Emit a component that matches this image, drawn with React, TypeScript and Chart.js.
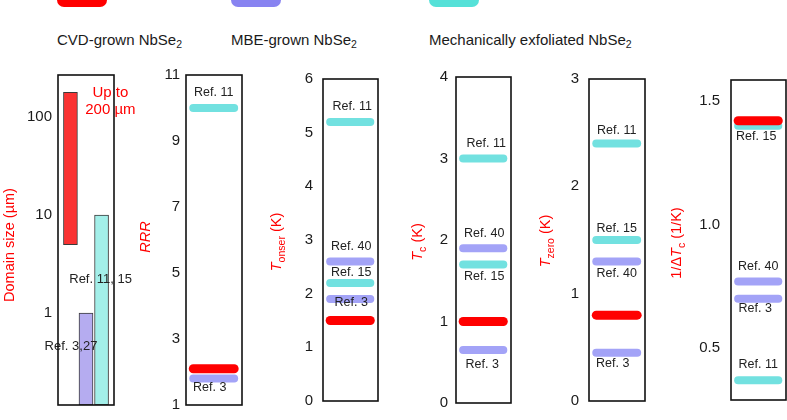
import React, { useEffect, useRef } from 'react';
import { Chart, registerables } from 'chart.js';

Chart.register(...registerables);

const FONT = '"Liberation Sans", Arial, Helvetica, sans-serif';

// ---------------- data ----------------
const groupKeys = ['cvd', 'mbe', 'exf'];
const legendLabels = ['CVD-grown NbSe2', 'MBE-grown NbSe2', 'Mechanically exfoliated NbSe2'];

// Domain size (µm), log scale; bars start at the axis bottom unless a low value is given
const domainGroups = ['cvd', 'mbe', 'exf'];
const domainLow: (number | null)[] = [5, null, null];
const domainHigh = [180, 1, 10];
const domainTicks = [1, 10, 100];
const domainNotes = [['Up to', '200 µm'], ['Ref. 3,27'], ['Ref. 11, 15']];

const rrrValues = [10.0, 2.1, 1.8];
const rrrGroups = ['exf', 'cvd', 'mbe'];
const rrrRefs = ['Ref. 11', '', 'Ref. 3'];
const rrrTicks = [1, 3, 5, 7, 9, 11];

const onsetValues = [5.2, 2.6, 2.2, 1.9, 1.5];
const onsetGroups = ['exf', 'mbe', 'exf', 'mbe', 'cvd'];
const onsetRefs = ['Ref. 11', 'Ref. 40', 'Ref. 15', 'Ref. 3', ''];
const onsetTicks = [0, 1, 2, 3, 4, 5, 6];

const tcValues = [3.0, 1.9, 1.7, 1.0, 0.65];
const tcGroups = ['exf', 'mbe', 'exf', 'cvd', 'mbe'];
const tcRefs = ['Ref. 11', 'Ref. 40', 'Ref. 15', '', 'Ref. 3'];
const tcTicks = [0, 1, 2, 3, 4];

const tzeroValues = [2.4, 1.5, 1.3, 0.8, 0.45];
const tzeroGroups = ['exf', 'exf', 'mbe', 'cvd', 'mbe'];
const tzeroRefs = ['Ref. 11', 'Ref. 15', 'Ref. 40', '', 'Ref. 3'];
const tzeroTicks = [0, 1, 2, 3];

const invDtValues = [1.42, 1.4, 0.77, 0.7, 0.37];
const invDtGroups = ['cvd', 'exf', 'mbe', 'mbe', 'exf'];
const invDtRefs = ['', 'Ref. 15', 'Ref. 40', 'Ref. 3', 'Ref. 11'];
const invDtTicks = [0.5, 1.0, 1.5];

// ---------------- styles / layout ----------------
const LINE_COLORS: Record<string, string> = { cvd: '#ff0000', mbe: '#a3a3f7', exf: '#72e1e0' };
const BAR_COLORS: Record<string, string> = { cvd: '#fa3232', mbe: '#b5acf0', exf: '#a3efe9' };
const LEGEND_COLORS: Record<string, string> = { cvd: '#ff0000', mbe: '#8883f1', exf: '#55e1d8' };
const LEGEND_X = [57, 231, 429];

const LINE_X0 = 0.13;
const LINE_X1 = 0.86;

const domainNoteOffsets: [number, number][] = [[40, 1], [-15, 33], [-1, 64]];
const domainNoteStyle = [
  { color: '#ff0000', size: 15, gap: 17 },
  { color: '#222', size: 13, gap: 0 },
  { color: '#222', size: 13, gap: 0 },
];
const rrrOffsets: ([number, number] | null)[] = [[0, -15], null, [-4, 9]];
const onsetOffsets: ([number, number] | null)[] = [[2, -15], [1, -15], [1, -10], [1, 4], null];
const tcOffsets: ([number, number] | null)[] = [[3, -15], [1, -15], [1, 12], null, [-1, 15]];
const tzeroOffsets: ([number, number] | null)[] = [[0, -13], [0, -11], [0, 12], null, [-4, 11]];
const invDtOffsets: ([number, number] | null)[] = [null, [-2, 11], [0, -15], [-3, 10], [0, -16]];

const PAGE_TOP = 60;
const CANVAS_H = 360;
const PAD_TOP = 14;
const PAD_BOTTOM = 9;
const AXIS_W = 60;
const PAD_RIGHT = 3;

type Seg = { text: string; italic?: boolean; sub?: boolean };
type LabelItem = { ds: number; lines: string[]; dx: number; dy: number; color: string; size: number; gap: number };

interface Panel {
  box: [number, number];
  extraRight: number;
  scaleType: 'linear' | 'logarithmic';
  min: number;
  max: number;
  ticks: number[];
  fmt: (v: number) => string;
  tickPad: number;
  title: Seg[];
  titleX: number;
  titleY: number;
  datasets: any[];
  xMin: number;
  xMax: number;
  labels: LabelItem[];
}

function linePanelData(values: number[], groups: string[], refs: string[], offsets: ([number, number] | null)[]) {
  const datasets = values.map((v, i) => ({
    type: 'line',
    data: [{ x: LINE_X0, y: v }, { x: LINE_X1, y: v }],
    borderColor: LINE_COLORS[groups[i]],
    borderWidth: groups[i] === 'cvd' ? 9 : 8,
    borderCapStyle: 'round',
    pointRadius: 0,
    fill: false,
    order: groups[i] === 'cvd' ? 0 : 1,
  }));
  const labels: LabelItem[] = [];
  refs.forEach((r, i) => {
    const o = offsets[i];
    if (r && o) labels.push({ ds: i, lines: [r], dx: o[0], dy: o[1], color: '#222', size: 12.5, gap: 0 });
  });
  return { datasets, labels, xMin: 0, xMax: 1 };
}

function domainPanelData() {
  const datasets = domainGroups.map((g, i) => ({
    type: 'bar',
    data: [{ x: i, y: domainLow[i] != null ? [domainLow[i], domainHigh[i]] : domainHigh[i] }],
    backgroundColor: BAR_COLORS[g],
    borderColor: '#3a3a3a',
    borderWidth: 1,
    borderSkipped: false,
    barThickness: 14,
    grouped: false,
  }));
  const labels: LabelItem[] = domainNotes.map((lines, i) => ({
    ds: i,
    lines,
    dx: domainNoteOffsets[i][0],
    dy: domainNoteOffsets[i][1],
    color: domainNoteStyle[i].color,
    size: domainNoteStyle[i].size,
    gap: domainNoteStyle[i].gap,
  }));
  return { datasets, labels, xMin: -0.8, xMax: 2.8 };
}

const fmtInt = (v: number) => String(v);
const fmt1 = (v: number) => v.toFixed(1);
const T_SEG = { text: 'T', italic: true };

const panels: Panel[] = [
  {
    box: [58, 114], extraRight: 40, scaleType: 'logarithmic', min: 0.115, max: 270, ticks: domainTicks, fmt: fmtInt, tickPad: 6,
    title: [{ text: 'Domain size (µm)' }], titleX: 9, titleY: 245, ...domainPanelData(),
  },
  {
    box: [186, 242], extraRight: 0, scaleType: 'linear', min: 1, max: 11, ticks: rrrTicks, fmt: fmtInt, tickPad: 6,
    title: [{ text: 'RRR', italic: true }], titleX: 145, titleY: 237,
    ...linePanelData(rrrValues, rrrGroups, rrrRefs, rrrOffsets),
  },
  {
    box: [323, 378], extraRight: 0, scaleType: 'linear', min: 0, max: 6, ticks: onsetTicks, fmt: fmtInt, tickPad: 10,
    title: [T_SEG, { text: 'onser', sub: true }, { text: ' (K)' }], titleX: 276, titleY: 242,
    ...linePanelData(onsetValues, onsetGroups, onsetRefs, onsetOffsets),
  },
  {
    box: [456, 511], extraRight: 0, scaleType: 'linear', min: 0, max: 4, ticks: tcTicks, fmt: fmtInt, tickPad: 8,
    title: [T_SEG, { text: 'c', sub: true }, { text: ' (K)' }], titleX: 417, titleY: 242,
    ...linePanelData(tcValues, tcGroups, tcRefs, tcOffsets),
  },
  {
    box: [589, 645], extraRight: 0, scaleType: 'linear', min: 0, max: 3, ticks: tzeroTicks, fmt: fmtInt, tickPad: 10,
    title: [T_SEG, { text: 'zero', sub: true }, { text: ' (K)' }], titleX: 545, titleY: 241,
    ...linePanelData(tzeroValues, tzeroGroups, tzeroRefs, tzeroOffsets),
  },
  {
    box: [731, 786], extraRight: 0, scaleType: 'linear', min: 0.29, max: 1.585, ticks: invDtTicks, fmt: fmt1, tickPad: 11,
    title: [{ text: '1/Δ' }, T_SEG, { text: 'c', sub: true }, { text: ' (1/K)' }], titleX: 676, titleY: 243,
    ...linePanelData(invDtValues, invDtGroups, invDtRefs, invDtOffsets),
  },
];

function canvasLeft(p: Panel) {
  return p.box[0] - AXIS_W;
}
function canvasWidth(p: Panel) {
  return AXIS_W + (p.box[1] - p.box[0]) + PAD_RIGHT + p.extraRight;
}

function drawTitle(ctx: CanvasRenderingContext2D, segs: Seg[], cx: number, cy: number) {
  const fontOf = (s: Seg) => `${s.italic ? 'italic ' : ''}${s.sub ? 10.5 : 14.5}px ${FONT}`;
  ctx.save();
  ctx.translate(cx, cy);
  ctx.rotate(-Math.PI / 2);
  ctx.fillStyle = '#ff0000';
  ctx.textBaseline = 'alphabetic';
  ctx.textAlign = 'left';
  let total = 0;
  segs.forEach((s) => {
    ctx.font = fontOf(s);
    total += ctx.measureText(s.text).width;
  });
  let x = -total / 2;
  segs.forEach((s) => {
    ctx.font = fontOf(s);
    ctx.fillText(s.text, x, s.sub ? 9 : 5);
    x += ctx.measureText(s.text).width;
  });
  ctx.restore();
}

function makeChart(canvas: HTMLCanvasElement, p: Panel) {
  const left = canvasLeft(p);
  const panelPlugin = {
    id: 'panelDecor',
    afterDatasetsDraw(chart: any) {
      const ctx: CanvasRenderingContext2D = chart.ctx;
      const ca = chart.chartArea;
      p.labels.forEach((lb) => {
        const meta = chart.getDatasetMeta(lb.ds);
        const els = meta.data;
        if (!els || !els.length) return;
        let ax: number, ay: number;
        if (els.length > 1) {
          ax = (els[0].x + els[1].x) / 2;
          ay = els[0].y;
        } else {
          ax = els[0].x;
          ay = els[0].y;
        }
        ctx.save();
        ctx.font = `${lb.size}px ${FONT}`;
        ctx.fillStyle = lb.color;
        ctx.textAlign = 'center';
        ctx.textBaseline = 'middle';
        lb.lines.forEach((t, k) => ctx.fillText(t, ax + lb.dx, ay + lb.dy + k * lb.gap));
        ctx.restore();
      });
      ctx.save();
      ctx.strokeStyle = '#111';
      ctx.lineWidth = 1.6;
      ctx.strokeRect(ca.left, ca.top, ca.right - ca.left, ca.bottom - ca.top);
      ctx.restore();
      drawTitle(ctx, p.title, p.titleX - left, p.titleY - PAGE_TOP);
    },
  };

  return new Chart(canvas, {
    type: 'line',
    data: { datasets: p.datasets },
    options: {
      responsive: false,
      maintainAspectRatio: false,
      animation: false,
      events: [],
      layout: { padding: { top: PAD_TOP, bottom: PAD_BOTTOM, left: 0, right: PAD_RIGHT + p.extraRight } },
      plugins: { legend: { display: false }, tooltip: { enabled: false }, title: { display: false } },
      scales: {
        x: {
          type: 'linear',
          min: p.xMin,
          max: p.xMax,
          offset: false,
          display: false,
          grid: { offset: false },
        },
        y: {
          type: p.scaleType,
          min: p.min,
          max: p.max,
          grid: { display: false, drawTicks: false },
          border: { display: false },
          afterBuildTicks: (s: any) => {
            s.ticks = p.ticks.map((v) => ({ value: v }));
          },
          afterFit: (s: any) => {
            s.width = AXIS_W;
          },
          ticks: {
            autoSkip: false,
            padding: p.tickPad,
            color: '#1a1a1a',
            font: { family: FONT, size: 15 },
            callback: (v: any) => p.fmt(Number(v)),
          },
        },
      },
    } as any,
    plugins: [panelPlugin],
  } as any);
}

function LegendLabel({ text }: { text: string }) {
  const m = text.match(/^(.*?)(\d)$/);
  const main = m ? m[1] : text;
  const sub = m ? m[2] : '';
  return (
    <span>
      {main}
      {sub && <span style={{ fontSize: 10.5, position: 'relative', top: 3 }}>{sub}</span>}
    </span>
  );
}

export default function App() {
  const refs = useRef<(HTMLCanvasElement | null)[]>([]);

  useEffect(() => {
    const charts = panels.map((p, i) => makeChart(refs.current[i] as HTMLCanvasElement, p));
    return () => charts.forEach((c) => c.destroy());
  }, []);

  return (
    <div
      style={{
        position: 'fixed',
        left: 0,
        top: 0,
        width: 787,
        height: 420,
        overflow: 'hidden',
        background: '#fff',
      }}
    >
      {groupKeys.map((g, i) => (
        <React.Fragment key={g}>
          <div
            style={{
              position: 'absolute',
              left: LEGEND_X[i],
              top: -7,
              width: 50,
              height: 14,
              borderRadius: 7,
              background: LEGEND_COLORS[g],
            }}
          />
          <div
            style={{
              position: 'absolute',
              left: LEGEND_X[i],
              top: 31,
              height: 18,
              lineHeight: '18px',
              font: `15px ${FONT}`,
              color: '#1a1a1a',
              whiteSpace: 'nowrap',
            }}
          >
            <LegendLabel text={legendLabels[i]} />
          </div>
        </React.Fragment>
      ))}
      {panels.map((p, i) => (
        <canvas
          key={i}
          ref={(el) => {
            refs.current[i] = el;
          }}
          width={canvasWidth(p)}
          height={CANVAS_H}
          style={{
            position: 'absolute',
            left: canvasLeft(p),
            top: PAGE_TOP,
            width: canvasWidth(p),
            height: CANVAS_H,
          }}
        />
      ))}
    </div>
  );
}
